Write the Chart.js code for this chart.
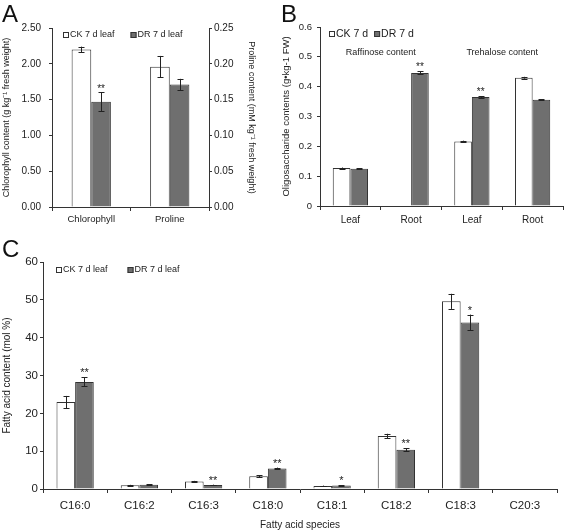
<!DOCTYPE html>
<html>
<head>
<meta charset="utf-8">
<script src="https://cdn.jsdelivr.net/npm/chart.js@4.4.1/dist/chart.umd.min.js"></script>
<style>
  body { margin: 0; background: #fff; }
  #wrap { position: relative; width: 567px; height: 531px; overflow: hidden; font-family: 'Liberation Sans', Arial, sans-serif; }
  canvas { position: absolute; }
  .tag { position: absolute; font-size: 24px; line-height: 1; color: #111; }
</style>
</head>
<body>
<div id="wrap">
  <canvas id="chartA" width="280" height="235" style="left:0;top:0"></canvas>
  <canvas id="chartB" width="287" height="235" style="left:280px;top:0"></canvas>
  <canvas id="chartC" width="567" height="291" style="left:0;top:240px"></canvas>
  <div class="tag" style="left:2px;top:2px">A</div>
  <div class="tag" style="left:281px;top:2px">B</div>
  <div class="tag" style="left:2px;top:237px">C</div>
</div>
<script>
// panel A
const aLabels = ['Chlorophyll', 'Proline'];
const aCK = [2.20, 0.196];
const aDR = [1.47, 0.171];
const aCKErr = [0.04, 0.015];
const aDRErr = [0.13, 0.008];
const aDRStars = ['**', ''];

// panel B
const bLabels = ['Leaf', 'Root', 'Leaf', 'Root'];
const bGroups = ['Raffinose content', 'Trehalose content'];
const bCK = [0.127, 0, 0.216, 0.430];
const bDR = [0.125, 0.446, 0.365, 0.356];
const bCKErr = [0.002, 0, 0.003, 0.003];
const bDRErr = [0.002, 0.005, 0.003, 0.002];
const bDRStars = ['', '**', '**', ''];

// panel C
const cLabels = ['C16:0', 'C16:2', 'C16:3', 'C18:0', 'C18:1', 'C18:2', 'C18:3', 'C20:3'];
const cCK = [23.0, 1.0, 2.0, 3.4, 0.8, 14.0, 49.6, 0.1];
const cDR = [28.3, 1.1, 1.05, 5.45, 0.95, 10.4, 44.0, 0.15];
const cCKErr = [1.6, 0.1, 0.15, 0.3, 0.1, 0.6, 2.0, 0];
const cDRErr = [1.2, 0.1, 0.1, 0.2, 0.1, 0.4, 2.1, 0];
const cDRStars = ['**', '', '**', '**', '*', '**', '*', ''];

const FONT = "'Liberation Sans', Arial, sans-serif";
const TXT = '#222';
const AXIS = '#333';
const WHITE = '#ffffff';
const GREY = '#6f6f6f';
Chart.defaults.font.family = FONT;
Chart.defaults.color = TXT;

// error bars and significance stars
const errorBars = {
  id: 'errorBars',
  afterDatasetsDraw(chart, args, opts) {
    const ctx = chart.ctx;
    chart.data.datasets.forEach((ds, di) => {
      if (!ds.errors) return;
      const meta = chart.getDatasetMeta(di);
      const sc = chart.scales[ds.yAxisID || 'y'];
      meta.data.forEach((bar, i) => {
        const v = ds.data[i];
        if (v == null) return;
        const e = ds.errors[i] || 0;
        const top = sc.getPixelForValue(v + e);
        const bot = sc.getPixelForValue(v - e);
        const x = Math.round(bar.x) + 0.5;
        ctx.save();
        ctx.strokeStyle = '#222';
        ctx.lineWidth = 1;
        if (e > 0) {
          ctx.beginPath();
          ctx.moveTo(x, top); ctx.lineTo(x, bot);
          ctx.moveTo(x - 3, Math.round(top) + 0.5); ctx.lineTo(x + 3, Math.round(top) + 0.5);
          ctx.moveTo(x - 3, Math.round(bot) + 0.5); ctx.lineTo(x + 3, Math.round(bot) + 0.5);
          ctx.stroke();
        }
        if (ds.stars && ds.stars[i]) {
          ctx.fillStyle = '#222';
          ctx.font = (opts.starSize || 10) + 'px ' + FONT;
          ctx.textAlign = 'center';
          ctx.textBaseline = 'alphabetic';
          ctx.fillText(ds.stars[i], bar.x, top + (opts.starOffset || 0));
        }
        ctx.restore();
      });
    });
  }
};

// small square legend drawn inside the plot
const boxLegend = {
  id: 'boxLegend',
  afterDraw(chart, args, opts) {
    const ctx = chart.ctx, a = chart.chartArea;
    let x = a.left + opts.dx;
    const y = a.top + opts.dy;
    ctx.save();
    ctx.font = opts.size + 'px ' + FONT;
    ctx.textBaseline = 'middle';
    chart.data.datasets.slice(0, 2).forEach(ds => {
      ctx.fillStyle = ds.backgroundColor;
      ctx.fillRect(x, y - 3, 6, 6);
      ctx.strokeStyle = '#333';
      ctx.lineWidth = 1;
      ctx.strokeRect(x + 0.5, y - 2.5, 5, 5);
      ctx.fillStyle = TXT;
      ctx.fillText(ds.label, x + 7, y);
      x += 7 + ctx.measureText(ds.label).width + opts.gap;
    });
    ctx.restore();
  }
};

// group captions for panel B
const groupLabels = {
  id: 'groupLabels',
  afterDraw(chart, args, opts) {
    if (!opts.labels) return;
    const ctx = chart.ctx, xs = chart.scales.x, ys = chart.scales.y;
    ctx.save();
    ctx.font = opts.size + 'px ' + FONT;
    ctx.fillStyle = TXT;
    ctx.textAlign = 'center';
    ctx.textBaseline = 'middle';
    opts.labels.forEach((t, g) => {
      const x = (xs.getPixelForValue(g * 2) + xs.getPixelForValue(g * 2 + 1)) / 2;
      ctx.fillText(t, x, ys.getPixelForValue(opts.at));
    });
    ctx.restore();
  }
};

function xAxis(size, h, pad) {
  return {
    offset: true,
    grid: { offset: true, drawOnChartArea: false, tickLength: 4, color: AXIS },
    border: { color: AXIS },
    ticks: { color: TXT, font: { size: size }, padding: pad, maxRotation: 0 },
    afterFit: s => { s.height = h; }
  };
}

function yAxis(pos, max, step, fmt, size, title, tsize, w, pad) {
  return {
    position: pos,
    min: 0, max: max,
    grid: { drawOnChartArea: false, tickLength: 3, color: AXIS },
    border: { color: AXIS },
    ticks: { stepSize: step, callback: fmt, color: TXT, font: { size: size }, padding: pad },
    title: { display: true, text: title, color: TXT, font: { size: tsize }, padding: { top: 1, bottom: 0 } },
    afterFit: s => { s.width = w; }
  };
}

function bars(label, data, err, stars, fill, extra) {
  return Object.assign({
    label: label, data: data, errors: err, stars: stars,
    backgroundColor: fill, borderColor: '#333', borderWidth: 1,
    barPercentage: 1, skipNull: true
  }, extra || {});
}

// A
new Chart(document.getElementById('chartA'), {
  type: 'bar',
  data: {
    labels: aLabels,
    datasets: [
      bars('CK 7 d leaf', [aCK[0], null], [aCKErr[0], 0], null, WHITE, { yAxisID: 'y' }),
      bars('DR 7 d leaf', [aDR[0], null], [aDRErr[0], 0], [aDRStars[0], ''], GREY, { yAxisID: 'y' }),
      bars('CK 7 d leaf', [null, aCK[1]], [0, aCKErr[1]], null, WHITE, { yAxisID: 'y1' }),
      bars('DR 7 d leaf', [null, aDR[1]], [0, aDRErr[1]], ['', aDRStars[1]], GREY, { yAxisID: 'y1' })
    ]
  },
  options: {
    responsive: false, animation: false, devicePixelRatio: 1,
    datasets: { bar: { categoryPercentage: 0.5 } },
    layout: { padding: { top: 28, right: 22, left: 0, bottom: 0 } },
    plugins: {
      legend: { display: false }, tooltip: { enabled: false },
      boxLegend: { dx: 11, dy: 7, size: 9, gap: 16 },
      errorBars: { starSize: 10, starOffset: 0 }
    },
    scales: {
      x: xAxis(9.5, 28, 3),
      y: yAxis('left', 2.5, 0.5, v => v.toFixed(2), 10, 'Chlorophyll content (g kg\u207B\u00B9 fresh weight)', 9, 52, 8),
      y1: yAxis('right', 0.25, 0.05, v => v.toFixed(2), 10, 'Proline content (mM kg\u207B\u00B9 fresh weight)', 9, 49, 2)
    }
  },
  plugins: [errorBars, boxLegend]
});

// B
new Chart(document.getElementById('chartB'), {
  type: 'bar',
  data: {
    labels: bLabels,
    datasets: [
      bars('CK 7 d', bCK, bCKErr, null, WHITE),
      bars('DR 7 d', bDR, bDRErr, bDRStars, GREY)
    ]
  },
  options: {
    responsive: false, animation: false, devicePixelRatio: 1,
    datasets: { bar: { categoryPercentage: 0.58 } },
    layout: { padding: { top: 27, right: 4, left: 0, bottom: 0 } },
    plugins: {
      legend: { display: false }, tooltip: { enabled: false },
      boxLegend: { dx: 9, dy: 7, size: 10.5, gap: 6 },
      groupLabels: { labels: bGroups, at: 0.516, size: 9 },
      errorBars: { starSize: 10, starOffset: -1 }
    },
    scales: {
      x: xAxis(10, 29, 4),
      y: yAxis('left', 0.6, 0.1, v => v === 0 ? '0' : v.toFixed(1), 9.5, 'Oligosaccharide contents (g\u2022kg-1 FW)', 9.5, 40, 5)
    }
  },
  plugins: [errorBars, boxLegend, groupLabels]
});

// C
new Chart(document.getElementById('chartC'), {
  type: 'bar',
  data: {
    labels: cLabels,
    datasets: [
      bars('CK 7 d leaf', cCK, cCKErr, null, WHITE),
      bars('DR 7 d leaf', cDR, cDRErr, cDRStars, GREY)
    ]
  },
  options: {
    responsive: false, animation: false, devicePixelRatio: 1,
    datasets: { bar: { categoryPercentage: 0.58 } },
    layout: { padding: { top: 22, right: 10, left: 0, bottom: 0 } },
    plugins: {
      legend: { display: false }, tooltip: { enabled: false },
      boxLegend: { dx: 13, dy: 8, size: 9, gap: 20 },
      errorBars: { starSize: 11, starOffset: -1 }
    },
    scales: {
      x: Object.assign(xAxis(11.5, 42, 6), {
        title: { display: true, text: 'Fatty acid species', color: TXT, font: { size: 10 }, padding: { top: 2, bottom: 0 } }
      }),
      y: yAxis('left', 60, 10, v => v, 11.5, 'Fatty acid content (mol %)', 10, 43, 2)
    }
  },
  plugins: [errorBars, boxLegend]
});
</script>
</body>
</html>
